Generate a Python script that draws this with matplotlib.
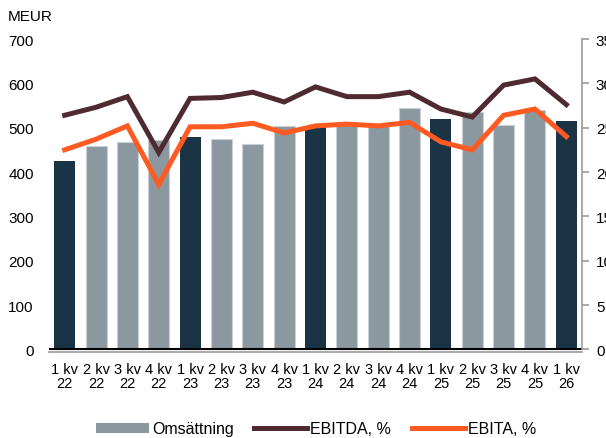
import matplotlib
matplotlib.use("Agg")
from matplotlib import pyplot as plt
from matplotlib.patches import Patch
from matplotlib.lines import Line2D

plt.rcParams['font.family'] = ['Liberation Sans', 'DejaVu Sans']
plt.rcParams['font.size'] = 11

quarters = ["1 kv\n22", "2 kv\n22", "3 kv\n22", "4 kv\n22",
            "1 kv\n23", "2 kv\n23", "3 kv\n23", "4 kv\n23",
            "1 kv\n24", "2 kv\n24", "3 kv\n24", "4 kv\n24",
            "1 kv\n25", "2 kv\n25", "3 kv\n25", "4 kv\n25",
            "1 kv\n26"]
omsattning = [425, 458, 468, 472, 479, 474, 463, 503, 504, 512, 506, 545,
              520, 536, 507, 540, 515]
ebitda = [26.4, 27.3, 28.5, 22.2, 28.3, 28.4, 29.0, 27.9, 29.6, 28.5, 28.5,
          29.0, 27.1, 26.2, 29.8, 30.5, 27.6]
ebita = [22.5, 23.7, 25.2, 18.6, 25.1, 25.1, 25.5, 24.4, 25.2, 25.4, 25.2,
         25.6, 23.4, 22.5, 26.4, 27.1, 24.0]

dark = '#1b3445'
grey = '#8b98a0'
c_ebitda = '#4f2a31'
c_ebita = '#ff5a22'

x = list(range(len(quarters)))
colors = [dark if q.startswith("1 kv") else grey for q in quarters]
edges = ['none' if c == dark else '#c9d0d4' for c in colors]

fig = plt.figure(figsize=(6.06, 4.39), dpi=100)
ax = fig.add_axes([49/606, 1-353/439, (582-49)/606, (353-40)/439])

ax.bar(x, omsattning, width=0.67, color=colors, edgecolor=edges, linewidth=0.8, zorder=2)
ax.axhline(0, color='black', lw=1.5, zorder=3)
ax.set_xlim(-0.5, 16.5)
ax.set_ylim(-6, 700)
ax.set_yticks(range(0, 701, 100))
ax.set_xticks(x)
ax.set_xticklabels(quarters, linespacing=1.05, fontsize=10.5)
ax.tick_params(axis='y', length=0, pad=11)
ax.tick_params(axis='x', length=0, pad=7)
for s in ['left', 'top', 'right']:
    ax.spines[s].set_visible(False)
ax.spines['bottom'].set_color('#999999')
ax.spines['bottom'].set_linewidth(1.2)

ax2 = ax.twinx()
ax2.plot(x, ebitda, color=c_ebitda, lw=3.6, solid_joinstyle='miter')
ax2.plot(x, ebita, color=c_ebita, lw=3.6, solid_joinstyle='miter')
ax2.set_ylim(-6/20, 35)
ax2.set_yticks(range(0, 36, 5))
for s in ['left', 'top', 'bottom']:
    ax2.spines[s].set_visible(False)
ax2.spines['right'].set_color('#999999')
ax2.spines['right'].set_linewidth(1.2)
ax2.spines['right'].set_bounds(0, 35)
ax2.tick_params(axis='y', length=5, width=1.2, color='#999999', pad=5)

fig.text(8/606, 1-17/439, "MEUR", ha='left', va='center')

handles = [Patch(facecolor=grey, edgecolor='none'),
           Line2D([], [], color=c_ebitda, lw=3.6),
           Line2D([], [], color=c_ebita, lw=3.6)]
fig.legend(handles, ["Omsättning", "EBITDA, %", "EBITA, %"], loc='center',
           bbox_to_anchor=(316/606, 1-430/439), ncol=3, frameon=False, fontsize=11.5,
           handlelength=3.3, handleheight=0.6, handletextpad=0.2, columnspacing=1.3)

plt.savefig("out.png", dpi=100)
